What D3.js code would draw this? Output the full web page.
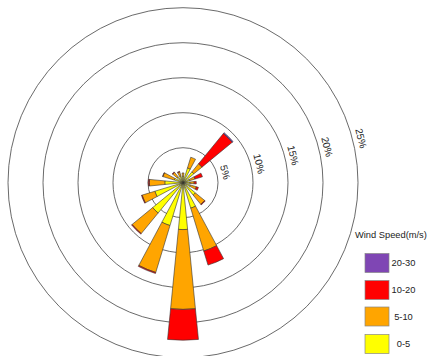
<!DOCTYPE html>
<html>
<head>
<meta charset="utf-8">
<script src="https://cdn.jsdelivr.net/npm/d3@7"></script>
<style>
  html, body { margin: 0; padding: 0; background: #fff; }
  svg { display: block; font-family: "Liberation Sans", Arial, Helvetica, sans-serif; }
</style>
</head>
<body>
<svg id="chart" width="430" height="356"></svg>
<script>
const directions = ["N","NNE","NE","ENE","E","ESE","SE","SSE","S","SSW","SW","WSW","W","WNW","NW","NNW"];
const speedBins = ["0-5","5-10","10-20","20-30"];
const speed0to5   = [0.9, 2.2, 2.0, 1.0, 1.0, 1.1, 2.3, 3.8, 6.7, 6.4, 5.6, 4.2, 2.6, 1.3, 1.1, 1.0];
const speed5to10  = [0.5, 1.6, 1.5, 0.8, 0.6, 0.9, 1.7, 6.4, 11.4, 7.0, 3.8, 1.9, 2.2, 1.7, 0.8, 0.6];
const speed10to20 = [0.0, 0.0, 5.6, 1.1, 0.3, 0.3, 0.1, 2.1, 4.4, 0.15, 0.1, 0.1, 0.15, 0.05, 0.1, 0.1];
const speed20to30 = [0.0, 0.0, 0.15, 0.0, 0.0, 0.0, 0.0, 0.0, 0.0, 0.0, 0.0, 0.0, 0.0, 0.0, 0.0, 0.0];
const binColors = ["#ffff00", "#ffa500", "#ff0000", "#7f46b4"];
const ringTicks = [5, 10, 15, 20, 25];
const ringLabels = ["5%", "10%", "15%", "20%", "25%"];

const series = [speed0to5, speed5to10, speed10to20, speed20to30];
const svg = d3.select("#chart");
const cx = 183, cy = 182.7;
const r = d3.scaleLinear().domain([0, 25]).range([0, 175]);
const step = 2 * Math.PI / directions.length;
const halfW = step / 4;

const g = svg.append("g").attr("transform", `translate(${cx},${cy})`);

// rings
g.selectAll("circle.ring").data(ringTicks).join("circle")
  .attr("class", "ring")
  .attr("r", d => r(d))
  .attr("fill", "none")
  .attr("stroke", "#444")
  .attr("stroke-width", 0.8);

// stacked segments
const stackData = d3.stack().keys(d3.range(series.length))(
  directions.map((dname, i) => {
    const o = {};
    series.forEach((s, k) => o[k] = s[i]);
    return o;
  })
);
const arc = d3.arc();
stackData.forEach((layer, k) => {
  g.append("g").selectAll("path").data(layer.map((d, i) => ({d, i})).filter(e => e.d[1] - e.d[0] > 0))
    .join("path")
    .attr("d", e => arc({
      innerRadius: r(e.d[0]),
      outerRadius: r(e.d[1]),
      startAngle: e.i * step - halfW,
      endAngle: e.i * step + halfW
    }))
    .attr("fill", binColors[k])
    .attr("stroke", "#333")
    .attr("stroke-width", 0.6);
});

// ring labels
const la = 76 * Math.PI / 180;
g.selectAll("text.rl").data(ringTicks).join("text")
  .attr("class", "rl")
  .attr("transform", (d) => {
    const rr = r(d) + 5;
    return `translate(${rr * Math.sin(la)},${-rr * Math.cos(la)}) rotate(76)`;
  })
  .attr("text-anchor", "middle")
  .attr("font-size", 10)
  .attr("fill", "#222")
  .text((d, i) => ringLabels[i]);

// legend
const lg = svg.append("g");
lg.append("text")
  .attr("x", 355).attr("y", 238)
  .attr("font-size", 9.3)
  .attr("fill", "#222")
  .text("Wind Speed(m/s)");
const legendOrder = [3, 2, 1, 0];
const boxY = [253.5, 280.5, 307, 334.5];
legendOrder.forEach((k, j) => {
  lg.append("rect")
    .attr("x", 365).attr("y", boxY[j])
    .attr("width", 24).attr("height", 19)
    .attr("fill", binColors[k])
    .attr("stroke", "#888")
    .attr("stroke-width", 0.7);
  lg.append("text")
    .attr("x", 403.5).attr("y", boxY[j] + 9.5 + 3.3)
    .attr("text-anchor", "middle")
    .attr("font-size", 9.3)
    .attr("fill", "#222")
    .text(speedBins[k]);
});
</script>
</body>
</html>
